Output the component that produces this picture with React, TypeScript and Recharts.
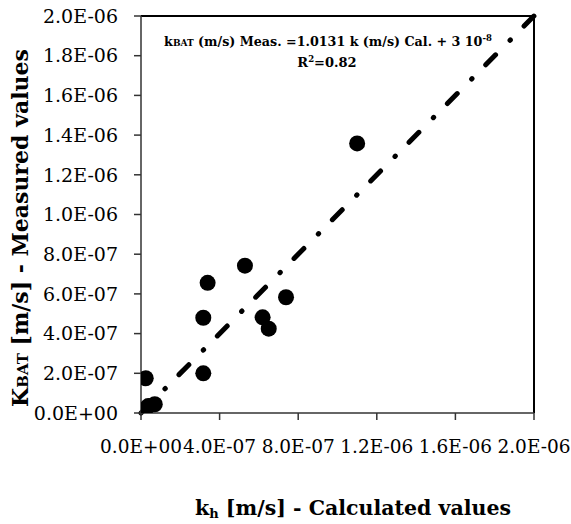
import React from 'react';
import { ScatterChart, Scatter, XAxis, YAxis, ReferenceLine, Label } from 'recharts';

const calcValues = [3e-9, 2.0e-8, 3.7e-8, 7.0e-8, 2.4e-8, 3.17e-7, 3.17e-7, 3.39e-7, 5.29e-7, 6.19e-7, 6.5e-7, 7.38e-7, 1.1e-6];
const measValues = [6e-9, 1.8e-8, 3.5e-8, 4.4e-8, 1.75e-7, 2.0e-7, 4.8e-7, 6.56e-7, 7.42e-7, 4.82e-7, 4.25e-7, 5.83e-7, 1.358e-6];

const xTicks = [0, 4e-7, 8e-7, 1.2e-6, 1.6e-6, 2e-6];
const xTickLabels = ['0.0E+00', '4.0E-07', '8.0E-07', '1.2E-06', '1.6E-06', '2.0E-06'];
const yTicks = [0, 2e-7, 4e-7, 6e-7, 8e-7, 1e-6, 1.2e-6, 1.4e-6, 1.6e-6, 1.8e-6, 2e-6];
const yTickLabels = ['0.0E+00', '2.0E-07', '4.0E-07', '6.0E-07', '8.0E-07', '1.0E-06', '1.2E-06', '1.4E-06', '1.6E-06', '1.8E-06', '2.0E-06'];

const trendX = [0, 2e-6];
const trendY = [0, 2e-6];

const axisMax = 2e-6;

const data = calcValues.map((x, i) => ({ x, y: measValues[i] }));

const FONT = '"DejaVu Serif", serif';

const Dot = (props: any) => <circle cx={props.cx} cy={props.cy} r={8} fill="#000" />;

const XTitle = () => (
  <text x={353} y={515} textAnchor="middle" fontFamily={FONT} fontWeight="bold" fontSize={20.5} fill="#000">
    k<tspan fontSize={13} dy={3}>h</tspan>
    <tspan dy={-3}> [m/s] - Calculated values</tspan>
  </text>
);

const YTitle = () => (
  <text x={28} y={228} transform="rotate(-90 28 228)" textAnchor="middle" fontFamily={FONT} fontWeight="bold" fontSize={22} fill="#000">
    K<tspan fontSize={15}>BAT</tspan> [m/s] - Measured values
  </text>
);

export default function App() {
  return (
    <div style={{ position: 'absolute', left: 0, top: 0, background: '#fff' }}>
      <ScatterChart width={571} height={524} margin={{ top: 16, right: 37, bottom: 0, left: 0 }}>
        <XAxis
          type="number"
          dataKey="x"
          domain={[0, axisMax]}
          ticks={xTicks}
          interval={0}
          allowDataOverflow
          tickFormatter={(v: number, i: number) => xTickLabels[i]}
          tick={{ fontFamily: FONT, fontSize: 18.5, fill: '#000' }}
          tickSize={7}
          tickMargin={20}
          height={111}
          stroke="#333"
          strokeWidth={1.5}
        >
          <Label content={<XTitle />} />
        </XAxis>
        <YAxis
          type="number"
          dataKey="y"
          domain={[0, axisMax]}
          ticks={yTicks}
          interval={0}
          allowDataOverflow
          tickFormatter={(v: number, i: number) => yTickLabels[i]}
          tick={{ fontFamily: FONT, fontSize: 19, fill: '#000' }}
          tickSize={7}
          tickMargin={16}
          width={141}
          stroke="#333"
          strokeWidth={1.5}
        >
          <Label content={<YTitle />} />
        </YAxis>
        <ReferenceLine y={axisMax} stroke="#000" strokeWidth={2} />
        <ReferenceLine x={axisMax} stroke="#000" strokeWidth={2} />
        <ReferenceLine
          segment={[{ x: trendX[0], y: trendY[0] }, { x: trendX[1], y: trendY[1] }]}
          stroke="#000"
          strokeWidth={5}
          strokeLinecap="round"
          strokeDasharray="0.5 19.5 14 20.5"
          strokeDashoffset={20.5}
        />
        <Scatter data={data} shape={<Dot />} isAnimationActive={false} />
        <text x={328} y={46} textAnchor="middle" fontFamily={FONT} fontWeight="bold" fontSize={12.7} fill="#000">
          k<tspan fontSize={9}>BAT</tspan> (m/s) Meas. =1.0131 k (m/s) Cal. + 3 10<tspan fontSize={8.5} dy={-5}>-8</tspan>
        </text>
        <text x={327} y={67} textAnchor="middle" fontFamily={FONT} fontWeight="bold" fontSize={13} fill="#000">
          R<tspan fontSize={8.5} dy={-5}>2</tspan><tspan dy={5}>=0.82</tspan>
        </text>
      </ScatterChart>
    </div>
  );
}
